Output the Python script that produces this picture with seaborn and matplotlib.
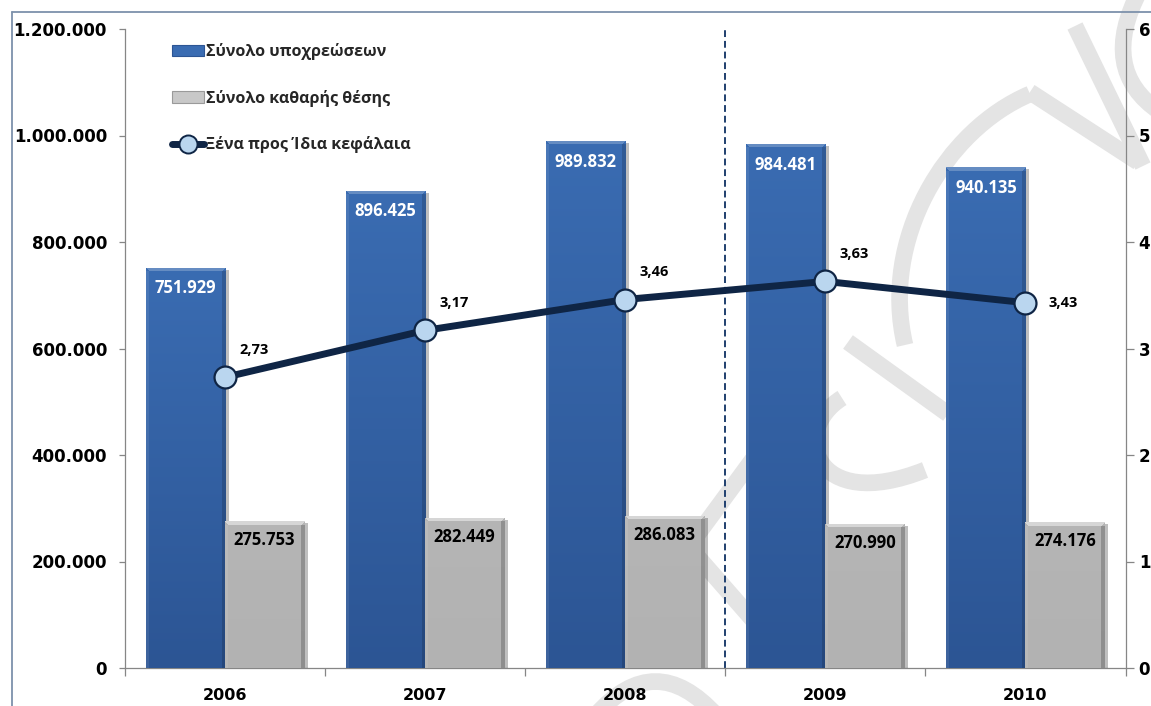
import numpy as np
import pandas as pd
import matplotlib
matplotlib.use("Agg")
import matplotlib.pyplot as plt
import matplotlib.font_manager as fm
import seaborn as sns
from matplotlib.path import Path
from matplotlib.patches import PathPatch, Patch
from matplotlib.lines import Line2D
from matplotlib.font_manager import FontProperties
from matplotlib.ticker import FuncFormatter, MultipleLocator
import matplotlib.patheffects as pe

# ---- data -------------------------------------------------------------
years = ["2006", "2007", "2008", "2009", "2010"]
total_liabilities = [751929, 896425, 989832, 984481, 940135]
net_worth = [275753, 282449, 286083, 270990, 274176]
debt_to_equity = [2.73, 3.17, 3.46, 3.63, 3.43]

series_names = ["Σύνολο υποχρεώσεων", "Σύνολο καθαρής θέσης",
                "Ξένα προς Ίδια κεφάλαια"]

# ---- style ------------------------------------------------------------
W_PX, H_PX, DPI = 1151, 706, 100
BLUE_TOP, BLUE_BOT = np.array([58, 108, 178]) / 255, np.array([44, 85, 148]) / 255
GREY_TOP, GREY_BOT = np.array([181, 181, 181]) / 255, np.array([178, 178, 178]) / 255
NAVY = "#0f2545"
MARKER_FACE = "#bad6ef"
AXIS_GREY = "#868686"
FRAME = "#7d91ab"
WATERMARK = "#e4e4e4"

sns.set_theme(style="white")
plt.rcParams["font.family"] = ["DejaVu Sans"]


def bold_family(candidates):
    """First candidate family that ships a real bold face."""
    for name in candidates:
        for f in fm.fontManager.ttflist:
            w = f.weight
            if isinstance(w, str):
                w = fm.weight_dict.get(w, 400)
            if f.name == name and w >= 700 and f.style == "normal":
                return name
    return "DejaVu Sans"


LABEL_FAMILY = bold_family(["Noto Sans", "Open Sans", "Roboto", "Lato",
                            "Liberation Sans", "DejaVu Sans"])
label_font = dict(family=LABEL_FAMILY, weight="bold")


def thousands(v):
    return f"{int(round(v)):,}".replace(",", ".")


def decimal_comma(v):
    return f"{v:.2f}".replace(".", ",")


def fig_pt(x, y):
    return (x / W_PX, 1 - y / H_PX)


fig = plt.figure(figsize=(W_PX / DPI, H_PX / DPI), dpi=DPI, facecolor="white")

# faint cursive watermark behind the plot
strokes = [
    ([(1140, -10), (1098, 70), (1160, 112)], [Path.MOVETO, Path.CURVE3, Path.CURVE3]),
    ([(1075, 26), (1143, 166)], [Path.MOVETO, Path.LINETO]),
    ([(1138, 162), (1030, 92)], [Path.MOVETO, Path.LINETO]),
    ([(1030, 94), (945, 130), (880, 240), (905, 345)],
     [Path.MOVETO, Path.CURVE4, Path.CURVE4, Path.CURVE4]),
    ([(848, 342), (948, 414)], [Path.MOVETO, Path.LINETO]),
    ([(842, 398), (790, 430), (812, 515), (925, 470)],
     [Path.MOVETO, Path.CURVE4, Path.CURVE4, Path.CURVE4]),
    ([(778, 425), (620, 640)], [Path.MOVETO, Path.LINETO]),
    ([(690, 548), (760, 628)], [Path.MOVETO, Path.LINETO]),
    ([(596, 715), (655, 648), (716, 715)], [Path.MOVETO, Path.CURVE3, Path.CURVE3]),
]
for pts, codes in strokes:
    path = Path([fig_pt(x, y) for x, y in pts], codes)
    fig.add_artist(PathPatch(path, facecolor="none", edgecolor=WATERMARK,
                             lw=12, capstyle="butt", transform=fig.transFigure,
                             zorder=-1))

# outer chart frame
fig.add_artist(Line2D([12 / W_PX, 12 / W_PX], [1 - 12 / H_PX, 0],
                      transform=fig.transFigure, color=FRAME, lw=1.3))
fig.add_artist(Line2D([12 / W_PX, 1], [1 - 12 / H_PX, 1 - 12 / H_PX],
                      transform=fig.transFigure, color=FRAME, lw=1.3))

left, right, top, bottom = 125, 1125.5, 29, 668
ax = fig.add_axes([left / W_PX, 1 - bottom / H_PX,
                   (right - left) / W_PX, (bottom - top) / H_PX])
ax.set_facecolor("none")

# ---- bars -------------------------------------------------------------
df = pd.DataFrame({
    "year": years * 2,
    "series": [series_names[0]] * len(years) + [series_names[1]] * len(years),
    "value": total_liabilities + net_worth,
})
sns.barplot(data=df, x="year", y="value", hue="series", order=years,
            hue_order=series_names[:2], palette=[BLUE_TOP, GREY_TOP],
            width=0.79, saturation=1, errorbar=None, legend=False,
            linewidth=0, ax=ax, zorder=3)

ax.set_xlim(-0.5, len(years) - 0.5)
ax.set_ylim(0, 1_200_000)


def shade(patch, top_rgb, bot_rgb, light_top, dark_side):
    x0, y0 = patch.get_x(), patch.get_y()
    w, h = patch.get_width(), patch.get_height()
    (px0, py0), (px1, py1) = ax.transData.transform([(x0, y0), (x0 + w, y0 + h)])
    nw, nh = max(int(round(px1 - px0)), 4), max(int(round(py1 - py0)), 4)
    t = np.linspace(0, 1, nh)[:, None, None]
    img = np.broadcast_to(top_rgb * (1 - t) + bot_rgb * t, (nh, nw, 3)).copy()
    # bevelled rim: light top and left, darker right edge
    for i in range(4):
        img[i, i:nw - i] = img[i, i:nw - i] * (1 - light_top) + light_top
    img[4:, :3] = img[4:, :3] * 0.92 + 0.08
    img[4:, -4:] = img[4:, -4:] * dark_side
    im = ax.imshow(img, extent=(x0, x0 + w, y0, y0 + h), aspect="auto",
                   origin="upper", interpolation="nearest",
                   zorder=patch.get_zorder() + 0.01)
    im.set_clip_path(patch)


for container, top_rgb, bot_rgb, lt, ds in [
        (ax.containers[0], BLUE_TOP, BLUE_BOT, 0.22, 0.84),
        (ax.containers[1], GREY_TOP, GREY_BOT, 0.45, 0.80)]:
    for bar in container.patches:
        bar.set_path_effects([pe.SimplePatchShadow(offset=(2.5, -1.5),
                                                   shadow_rgbFace="black",
                                                   alpha=0.25),
                              pe.Normal()])
        shade(bar, top_rgb, bot_rgb, lt, ds)

ax.set_xlim(-0.5, len(years) - 0.5)
ax.set_ylim(0, 1_200_000)

for bar, v in zip(ax.containers[0].patches, total_liabilities):
    ax.annotate(thousands(v), xy=(bar.get_x() + bar.get_width() / 2, v),
                xytext=(0, -15), textcoords="offset points", ha="center",
                va="center", color="white", fontsize=12, zorder=6, **label_font)
for bar, v in zip(ax.containers[1].patches, net_worth):
    ax.annotate(thousands(v), xy=(bar.get_x() + bar.get_width() / 2, v),
                xytext=(0, -13.7), textcoords="offset points", ha="center",
                va="center", color="black", fontsize=12, zorder=6, **label_font)

# separator between 2008 and 2009
ax.axvline(2.5, color="#1f3f6e", lw=1.4, ls=(0, (3.5, 2)), zorder=2)

# ---- ratio line on the secondary axis -----------------------------------
ax2 = ax.twinx()
ax2.set_facecolor("none")
sns.pointplot(x=years, y=debt_to_equity, order=years, color=NAVY, markers="o",
              linestyles="-", errorbar=None, ax=ax2, linewidth=5,
              markersize=15.8, markeredgewidth=1.6, zorder=5)
ratio_line = ax2.lines[0]
ratio_line.set_markerfacecolor(MARKER_FACE)
ratio_line.set_markeredgecolor(NAVY)
ratio_line.set_solid_joinstyle("round")
ax2.set_ylim(0, 6)
ax2.set_xlim(-0.5, len(years) - 0.5)

xs, ys = ratio_line.get_xdata(), ratio_line.get_ydata()
for i, (x, y) in enumerate(zip(xs, ys)):
    offset = (27, 0) if i == len(xs) - 1 else (21, 19.5)
    ax2.annotate(decimal_comma(y), xy=(x, y), xytext=offset,
                 textcoords="offset points", ha="center", va="center",
                 color="black", fontsize=10.5, zorder=7, **label_font)

# ---- axes cosmetics -----------------------------------------------------
for a in (ax, ax2):
    a.set_xlabel("")
    a.set_ylabel("")
    a.grid(False)
    a.spines["top"].set_visible(False)
ax.spines["right"].set_visible(False)
for s in ("left", "bottom"):
    ax.spines[s].set_color(AXIS_GREY)
    ax.spines[s].set_linewidth(0.9)
ax2.spines["left"].set_visible(False)
ax2.spines["bottom"].set_visible(False)
ax2.spines["right"].set_color(AXIS_GREY)
ax2.spines["right"].set_linewidth(0.9)

ax.yaxis.set_major_locator(MultipleLocator(200_000))
ax.yaxis.set_major_formatter(FuncFormatter(lambda v, _: thousands(v)))
ax.tick_params(axis="y", which="major", left=True, direction="out", length=4.5,
               width=0.9, color=AXIS_GREY, pad=8.5, labelsize=12,
               labelcolor="black")
for t in ax.get_yticklabels():
    t.set_fontweight("bold")

ax.set_xticks(range(len(years)))
ax.set_xticklabels(years)
ax.set_xticks(np.arange(-0.5, len(years), 1), minor=True)
ax.tick_params(axis="x", which="major", bottom=False, length=0, pad=14.5,
               labelsize=11.5, labelcolor="black")
ax.tick_params(axis="x", which="minor", bottom=True, direction="out", length=5.5,
               width=0.9, color=AXIS_GREY)
for t in ax.get_xticklabels():
    t.set_fontweight("bold")

ax2.yaxis.set_major_locator(MultipleLocator(1))
ax2.yaxis.set_major_formatter(FuncFormatter(lambda v, _: f"{int(v)}"))
ax2.tick_params(axis="y", right=True, direction="out", length=6, width=0.9,
                color=AXIS_GREY, pad=3.5, labelsize=12, labelcolor="black")
for t in ax2.get_yticklabels():
    t.set_fontweight("bold")

# ---- legend -------------------------------------------------------------
handles = [
    Patch(facecolor=BLUE_TOP, edgecolor=BLUE_BOT, lw=0.8),
    Patch(facecolor="#c8c8c8", edgecolor="#9a9a9a", lw=0.8),
    Line2D([], [], color=NAVY, lw=5, marker="o", markersize=13,
           markerfacecolor=MARKER_FACE, markeredgecolor=NAVY, markeredgewidth=1.4),
]
fig.legend(handles, series_names, loc="upper left",
           bbox_to_anchor=fig_pt(172, 43), bbox_transform=fig.transFigure,
           frameon=False, prop=FontProperties(family=LABEL_FAMILY, weight="bold",
                                              size=11.5),
           handlelength=2.0, handleheight=0.7, handletextpad=0.15,
           labelspacing=1.85, borderpad=0, borderaxespad=0)

fig.savefig("out.png", dpi=DPI, facecolor="white")
